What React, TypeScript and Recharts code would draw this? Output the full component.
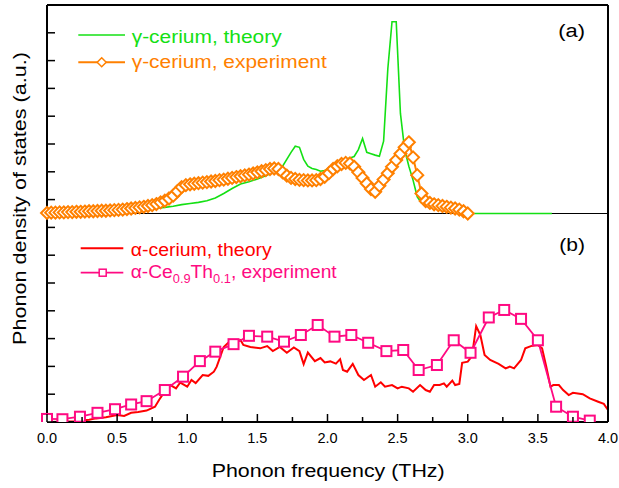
import { LineChart, Line, XAxis, YAxis, ReferenceLine } from "recharts"

// upper panel (a) sits on a baseline at 7.5 in plot units, lower panel (b) at 0
const UPPER_BASE = 7.5

const freqTicks = [0, 0.25, 0.5, 0.75, 1, 1.25, 1.5, 1.75, 2, 2.25, 2.5, 2.75, 3, 3.25, 3.5, 3.75, 4]
const majorTicks = [0, 0.5, 1, 1.5, 2, 2.5, 3, 3.5, 4]
const dosTicks = [0, 1, 2, 3, 4, 5, 6, 7, 8, 9, 10, 11, 12, 13, 14, 15]

// gamma-cerium, theory
const gammaTheoryX = [0, 0.3, 0.6, 0.75, 0.84, 0.9, 0.96, 1.02, 1.08, 1.14, 1.2, 1.26, 1.32, 1.38, 1.44, 1.5, 1.56, 1.62, 1.68, 1.74, 1.77, 1.8, 1.83, 1.86, 1.89, 1.92, 1.95, 1.98, 2.01, 2.04, 2.07, 2.1, 2.13, 2.16, 2.19, 2.22, 2.25, 2.28, 2.31, 2.34, 2.37, 2.4, 2.43, 2.46, 2.49, 2.52, 2.55, 2.58, 2.61, 2.64, 2.67, 2.7, 2.73, 2.76, 2.79, 2.82, 2.85, 2.88, 2.91, 2.94, 2.97, 3.0, 3.6]
const gammaTheory = [0.02, 0.05, 0.12, 0.18, 0.22, 0.26, 0.32, 0.36, 0.4, 0.46, 0.56, 0.72, 0.9, 1.06, 1.14, 1.24, 1.36, 1.5, 1.7, 2.2, 2.42, 2.38, 1.95, 1.7, 1.62, 1.58, 1.52, 1.55, 1.6, 1.7, 1.8, 1.88, 1.94, 2.0, 2.05, 2.3, 2.7, 2.2, 2.15, 2.1, 2.06, 2.6, 5.2, 6.9, 6.9, 3.6, 2.3, 1.7, 1.2, 0.6, 0.38, 0.3, 0.24, 0.2, 0.16, 0.12, 0.09, 0.06, 0.04, 0.02, 0.01, 0, 0]

// gamma-cerium, experiment
const gammaExpX = [0, 0.03, 0.06, 0.09, 0.12, 0.15, 0.18, 0.21, 0.24, 0.27, 0.3, 0.33, 0.36, 0.39, 0.42, 0.45, 0.48, 0.51, 0.54, 0.57, 0.6, 0.63, 0.66, 0.69, 0.72, 0.75, 0.78, 0.81, 0.84, 0.87, 0.9, 0.93, 0.96, 0.99, 1.02, 1.05, 1.08, 1.11, 1.14, 1.17, 1.2, 1.23, 1.26, 1.29, 1.32, 1.35, 1.38, 1.41, 1.44, 1.47, 1.5, 1.53, 1.56, 1.59, 1.62, 1.65, 1.68, 1.71, 1.74, 1.77, 1.8, 1.83, 1.86, 1.89, 1.92, 1.95, 1.98, 2.01, 2.04, 2.07, 2.1, 2.13, 2.16, 2.19, 2.22, 2.25, 2.28, 2.31, 2.34, 2.37, 2.4, 2.43, 2.46, 2.49, 2.52, 2.55, 2.58, 2.61, 2.64, 2.67, 2.7, 2.73, 2.76, 2.79, 2.82, 2.85, 2.88, 2.91, 2.94, 2.97, 3.0]
const gammaExp = [0.02, 0.03, 0.03, 0.04, 0.04, 0.05, 0.05, 0.06, 0.06, 0.07, 0.08, 0.08, 0.09, 0.1, 0.1, 0.11, 0.12, 0.13, 0.14, 0.16, 0.18, 0.2, 0.22, 0.24, 0.27, 0.3, 0.34, 0.4, 0.46, 0.54, 0.64, 0.8, 0.95, 1.02, 1.05, 1.07, 1.09, 1.11, 1.13, 1.15, 1.17, 1.2, 1.22, 1.25, 1.28, 1.31, 1.34, 1.37, 1.4, 1.44, 1.48, 1.52, 1.56, 1.6, 1.62, 1.6, 1.48, 1.36, 1.28, 1.24, 1.21, 1.2, 1.19, 1.19, 1.2, 1.24, 1.32, 1.45, 1.6, 1.7, 1.78, 1.82, 1.8, 1.68, 1.48, 1.28, 1.08, 0.88, 0.78, 1.0, 1.22, 1.45, 1.68, 1.92, 2.15, 2.38, 2.56, 2.02, 1.38, 0.72, 0.45, 0.38, 0.33, 0.3, 0.27, 0.24, 0.21, 0.18, 0.14, 0.08, 0]

// alpha-cerium, theory
const alphaTheoryX = [0, 0.1, 0.2, 0.3, 0.35, 0.42, 0.5, 0.55, 0.6, 0.65, 0.71, 0.77, 0.8, 0.83, 0.88, 0.92, 0.95, 1.0, 1.03, 1.06, 1.11, 1.15, 1.19, 1.21, 1.26, 1.3, 1.34, 1.38, 1.4, 1.45, 1.52, 1.57, 1.61, 1.66, 1.71, 1.76, 1.8, 1.83, 1.86, 1.91, 1.95, 1.98, 2.02, 2.06, 2.09, 2.11, 2.14, 2.18, 2.22, 2.26, 2.31, 2.34, 2.38, 2.41, 2.46, 2.5, 2.53, 2.58, 2.61, 2.66, 2.7, 2.73, 2.76, 2.8, 2.83, 2.85, 2.89, 2.91, 2.94, 2.96, 3.0, 3.03, 3.06, 3.09, 3.12, 3.16, 3.22, 3.27, 3.3, 3.33, 3.38, 3.41, 3.45, 3.5, 3.53, 3.56, 3.59, 3.61, 3.65, 3.68, 3.72, 3.75, 3.82, 3.87, 3.93, 3.97, 4.0]
const alphaTheory = [0, 0.01, 0.03, 0.08, 0.13, 0.17, 0.25, 0.22, 0.33, 0.36, 0.41, 0.55, 0.8, 1.03, 1.33, 1.21, 1.42, 1.27, 1.51, 1.4, 1.69, 1.66, 1.81, 1.99, 2.7, 2.89, 2.88, 2.95, 2.77, 2.7, 2.65, 2.73, 2.55, 2.7, 2.49, 2.68, 2.55, 2.08, 2.5, 2.19, 2.3, 2.14, 2.18, 2.1, 2.26, 1.87, 1.81, 2.09, 1.69, 1.51, 1.69, 1.27, 1.43, 1.27, 1.33, 1.21, 1.27, 1.21, 1.09, 1.33, 1.15, 1.09, 1.33, 1.33, 1.39, 1.27, 1.49, 1.33, 1.37, 2.13, 2.17, 2.37, 3.45, 3.13, 2.41, 2.23, 2.09, 1.93, 1.99, 1.93, 2.23, 2.65, 2.73, 2.77, 2.65, 1.99, 1.27, 1.33, 1.33, 1.15, 0.97, 1.05, 1.0, 0.85, 0.73, 0.65, 0.43]

// alpha-Ce0.9Th0.1, experiment
const alphaExpX = [0, 0.11, 0.235, 0.36, 0.485, 0.6, 0.71, 0.84, 0.97, 1.09, 1.2, 1.33, 1.44, 1.57, 1.69, 1.81, 1.93, 2.05, 2.17, 2.29, 2.42, 2.54, 2.65, 2.78, 2.9, 3.02, 3.15, 3.26, 3.38, 3.5, 3.63, 3.75, 3.87]
const alphaExp = [0.11, 0.1, 0.19, 0.33, 0.46, 0.63, 0.75, 1.15, 1.63, 2.19, 2.53, 2.8, 3.1, 3.07, 2.89, 3.13, 3.49, 3.07, 3.13, 2.85, 2.55, 2.59, 1.87, 2.05, 2.94, 2.49, 3.76, 4.03, 3.71, 2.94, 0.55, 0.19, 0.05]

const GREEN = "#14e014"
const ORANGE = "#ff8000"
const RED = "#ff0000"
const PINK = "#ff0a82"
const FONT = "'Liberation Sans', Arial, sans-serif"

const toRows = (xs: number[], ys: number[], offset = 0) => xs.map((x, i) => ({ x, y: ys[i] + offset }))

const gammaTheoryRows = toRows(gammaTheoryX, gammaTheory, UPPER_BASE)
const gammaExpRows = toRows(gammaExpX, gammaExp, UPPER_BASE)
const alphaTheoryRows = toRows(alphaTheoryX, alphaTheory)
const alphaExpRows = toRows(alphaExpX, alphaExp)

const isMajor = (v: number) => Math.abs(v * 2 - Math.round(v * 2)) < 1e-6

function BottomTick({ x, y, payload }: any) {
  const major = isMajor(payload.value)
  return (
    <g>
      <line x1={x} x2={x} y1={y} y2={y - (major ? 8 : 5)} stroke="#000" strokeWidth={1.5} />
      {major && (
        <text x={x} y={y + 21} textAnchor="middle" fontSize={14.5} fontFamily={FONT} fill="#000">
          {payload.value.toFixed(1)}
        </text>
      )}
    </g>
  )
}

function TopTick({ x, y }: any) {
  return <line x1={x} x2={x} y1={y} y2={y + 8} stroke="#000" strokeWidth={1.5} />
}

function LeftTick({ x, y }: any) {
  return <line x1={x} x2={x + 8} y1={y} y2={y} stroke="#000" strokeWidth={1.5} />
}

function RightTick({ x, y }: any) {
  return <line x1={x} x2={x - 8} y1={y} y2={y} stroke="#000" strokeWidth={1.5} />
}

function Diamond({ cx, cy }: any) {
  const r = 6
  return (
    <polygon
      points={`${cx},${cy - r} ${cx + r},${cy} ${cx},${cy + r} ${cx - r},${cy}`}
      fill="#fff"
      stroke={ORANGE}
      strokeWidth={2}
    />
  )
}

function Square({ cx, cy }: any) {
  const s = 10
  return <rect x={cx - s / 2} y={cy - s / 2} width={s} height={s} fill="#fff" stroke={PINK} strokeWidth={2} />
}

const axisLine = { stroke: "#000", strokeWidth: 2 }

export default function App() {
  return (
    <div style={{ position: "absolute", left: 0, top: 0, width: 619, height: 488, background: "#fff" }}>
      <LineChart width={619} height={488} margin={{ top: 4, right: 6, left: 37, bottom: 36 }}>
        <XAxis
          type="number"
          dataKey="x"
          domain={[0, 4]}
          ticks={freqTicks}
          interval={0}
          height={30}
          tickSize={0}
          tickMargin={0}
          tickLine={false}
          axisLine={axisLine}
          tick={<BottomTick />}
        />
        <XAxis
          xAxisId="top"
          orientation="top"
          type="number"
          dataKey="x"
          domain={[0, 4]}
          ticks={majorTicks}
          interval={0}
          height={1}
          tickSize={0}
          tickMargin={0}
          tickLine={false}
          axisLine={axisLine}
          tick={<TopTick />}
        />
        <YAxis
          type="number"
          domain={[0, 15]}
          ticks={dosTicks}
          interval={0}
          width={10}
          tickSize={0}
          tickMargin={0}
          tickLine={false}
          axisLine={axisLine}
          tick={<LeftTick />}
          allowDataOverflow
        />
        <YAxis
          yAxisId="right"
          orientation="right"
          type="number"
          domain={[0, 15]}
          ticks={dosTicks}
          interval={0}
          width={5}
          tickSize={0}
          tickMargin={0}
          tickLine={false}
          axisLine={axisLine}
          tick={<RightTick />}
        />
        <ReferenceLine y={UPPER_BASE} stroke="#000" strokeWidth={1} />
        <Line data={gammaTheoryRows} dataKey="y" type="linear" stroke={GREEN} strokeWidth={1.6} dot={false} isAnimationActive={false} />
        <Line data={gammaExpRows} dataKey="y" type="linear" stroke={ORANGE} strokeWidth={2} dot={<Diamond />} isAnimationActive={false} />
        <Line data={alphaTheoryRows} dataKey="y" type="linear" stroke={RED} strokeWidth={2} dot={false} isAnimationActive={false} />
        <Line data={alphaExpRows} dataKey="y" type="linear" stroke={PINK} strokeWidth={1.8} dot={<Square />} isAnimationActive={false} />
      </LineChart>
      <svg width={619} height={488} style={{ position: "absolute", left: 0, top: 0, pointerEvents: "none" }} fontFamily={FONT}>
        <text x={211.7} y={477} fontSize={17.5} fill="#000" textLength={233} lengthAdjust="spacingAndGlyphs">
          Phonon frequency (THz)
        </text>
        <text transform="translate(26,345) rotate(-90)" fontSize={17.5} fill="#000" textLength={293} lengthAdjust="spacingAndGlyphs">
          Phonon density of states (a.u.)
        </text>

        <text x={558.3} y={36.7} fontSize={18} fill="#000" textLength={26.7} lengthAdjust="spacingAndGlyphs">(a)</text>
        <text x={559.3} y={250.5} fontSize={18} fill="#000" textLength={25.7} lengthAdjust="spacingAndGlyphs">(b)</text>

        <line x1={78.3} x2={125} y1={35} y2={35} stroke={GREEN} strokeWidth={1.6} />
        <text x={131.7} y={43.3} fontSize={18} fill={GREEN} textLength={150} lengthAdjust="spacingAndGlyphs">γ-cerium, theory</text>

        <line x1={78.3} x2={125} y1={62.3} y2={62.3} stroke={ORANGE} strokeWidth={2} />
        <polygon points="101.7,57.8 106.2,62.3 101.7,66.8 97.2,62.3" fill="#fff" stroke={ORANGE} strokeWidth={1.5} />
        <text x={131.7} y={68.3} fontSize={18} fill={ORANGE} textLength={195} lengthAdjust="spacingAndGlyphs">γ-cerium, experiment</text>

        <line x1={80.7} x2={123.3} y1={248.3} y2={248.3} stroke={RED} strokeWidth={2} />
        <text x={130.7} y={256} fontSize={18} fill={RED} textLength={141} lengthAdjust="spacingAndGlyphs">α-cerium, theory</text>

        <line x1={80.7} x2={123.3} y1={272.7} y2={272.7} stroke={PINK} strokeWidth={1.8} />
        <rect x={99.2} y={269.2} width={7} height={7} fill="#fff" stroke={PINK} strokeWidth={1.5} />
        <text x={130.7} y={278.3} fontSize={18} fill={PINK} textLength={206} lengthAdjust="spacingAndGlyphs">
          α-Ce<tspan fontSize={12} dy={5}>0.9</tspan>
          <tspan dy={-5}>Th</tspan>
          <tspan fontSize={12} dy={5}>0.1</tspan>
          <tspan dy={-5}>, experiment</tspan>
        </text>
      </svg>
    </div>
  )
}
